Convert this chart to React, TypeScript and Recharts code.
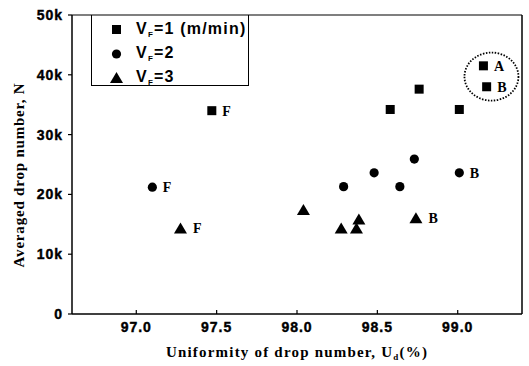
import React from "react";
import {
  ScatterChart,
  Scatter,
  XAxis,
  YAxis,
  ReferenceLine,
  ReferenceDot,
  LabelList,
} from "recharts";

const vf1X = [97.47, 98.58, 98.76, 99.01, 99.16, 99.18];
const vf1Y = [34000, 34200, 37600, 34200, 41500, 38000];
const vf1Labels = ["F", "", "", "", "A", "B"];

const vf2X = [97.1, 98.29, 98.48, 98.64, 98.73, 99.01];
const vf2Y = [21200, 21300, 23600, 21300, 25900, 23600];
const vf2Labels = ["F", "", "", "", "", "B"];

const vf3X = [97.275, 98.04, 98.275, 98.37, 98.385, 98.74];
const vf3Y = [14300, 17400, 14300, 14300, 15800, 16000];
const vf3Labels = ["F", "", "", "", "", "B"];

const xTicks = [97.0, 97.5, 98.0, 98.5, 99.0];
const yTicks = [0, 10000, 20000, 30000, 40000, 50000];
const xDomain = [96.6, 99.4];
const yDomain = [0, 50000];
const circledCenter = { x: 99.21, y: 39700 };

const build = (xs: number[], ys: number[], ls: string[]) =>
  xs.map((x, i) => ({ x, y: ys[i], label: ls[i] }));

const d1 = build(vf1X, vf1Y, vf1Labels);
const d2 = build(vf2X, vf2Y, vf2Labels);
const d3 = build(vf3X, vf3Y, vf3Labels);

const Square = (p: any) => (
  <rect x={p.cx - 4.5} y={p.cy - 4.5} width={9} height={9} fill="#000" />
);
const Dot = (p: any) => <circle cx={p.cx} cy={p.cy} r={4.6} fill="#000" />;
const Tri = (p: any) => (
  <polygon
    points={`${p.cx},${p.cy - 6} ${p.cx - 6.5},${p.cy + 5} ${p.cx + 6.5},${p.cy + 5}`}
    fill="#000"
  />
);

const labelStyle = {
  fontFamily: "'Liberation Serif', serif",
  fontWeight: 700,
  fontSize: 14,
  fill: "#000",
};

const tickFont = {
  fontFamily: "'Liberation Sans', Arial, sans-serif",
  fontWeight: 700,
  fontSize: 14,
  letterSpacing: 1,
  stroke: "#000",
  strokeWidth: 0.4,
};

const XTick = (p: any) => (
  <g>
    <line x1={p.x} x2={p.x} y1={p.y} y2={p.y - 4} stroke="#000" strokeWidth={1.2} />
    <text x={p.x} y={p.y + 18} textAnchor="middle" style={tickFont} fill="#000">
      {p.payload.value.toFixed(1)}
    </text>
  </g>
);

const yFmt = (v: number) => (v === 0 ? "0" : `${v / 1000}k`);

const Ellipse = (p: any) => (
  <ellipse
    cx={p.cx}
    cy={p.cy}
    rx={27}
    ry={24}
    fill="none"
    stroke="#000"
    strokeWidth={1.8}
    strokeDasharray="1.5 1.5"
  />
);

const legendItems = [
  { sym: "square", sub: "=1 (m/min)" },
  { sym: "circle", sub: "=2" },
  { sym: "tri", sub: "=3" },
];

const LegendBox = () => (
  <div
    style={{
      position: "absolute",
      left: 91,
      top: 15,
      width: 158,
      height: 71,
      border: "1px solid #000",
      borderTop: "none",
      boxSizing: "border-box",
      fontFamily: "'Liberation Sans', Arial, sans-serif",
      fontWeight: 700,
      fontSize: 16,
      letterSpacing: 1.2,
    }}
  >
    {legendItems.map((it, i) => (
      <div key={i} style={{ position: "absolute", left: 0, top: 5 + i * 24, height: 20, width: 156 }}>
        <svg width={20} height={20} style={{ position: "absolute", left: 15, top: 0 }}>
          {it.sym === "square" && <rect x={5} y={5} width={9} height={9} fill="#000" />}
          {it.sym === "circle" && <circle cx={9.5} cy={10} r={4.6} fill="#000" />}
          {it.sym === "tri" && <polygon points="9.5,4 3,15 16,15" fill="#000" />}
        </svg>
        <span style={{ position: "absolute", left: 44, top: 0, whiteSpace: "nowrap" }}>
          V<sub style={{ fontSize: 8, verticalAlign: "-3px" }}>F</sub>
          {it.sub}
        </span>
      </div>
    ))}
  </div>
);

export default function App() {
  return (
    <div style={{ position: "absolute", left: 0, top: 0, width: 529, height: 366, background: "#fff" }}>
      <ScatterChart width={529} height={366} margin={{ top: 15, right: 7, bottom: 22, left: 0 }}>
        <XAxis
          type="number"
          dataKey="x"
          domain={xDomain}
          ticks={xTicks}
          tickSize={0}
          tickMargin={0}
          tick={<XTick />}
          height={30}
          axisLine={{ stroke: "#000", strokeWidth: 1.5 }}
          allowDataOverflow
        />
        <YAxis
          type="number"
          dataKey="y"
          domain={yDomain}
          ticks={yTicks}
          tickFormatter={yFmt}
          width={72}
          tickSize={4}
          tickMargin={5}
          tick={{ fill: "#000", ...tickFont }}
          tickLine={{ stroke: "#000", strokeWidth: 1.2 }}
          axisLine={{ stroke: "#000", strokeWidth: 1.5 }}
        />
        <ReferenceLine y={50000} stroke="#000" strokeWidth={1.2} />
        <ReferenceLine x={99.4} stroke="#000" strokeWidth={1.5} />
        <ReferenceDot x={circledCenter.x} y={circledCenter.y} shape={<Ellipse />} />
        <Scatter data={d1} shape={<Square />} isAnimationActive={false}>
          <LabelList dataKey="label" position="right" offset={6} style={labelStyle} />
        </Scatter>
        <Scatter data={d2} shape={<Dot />} isAnimationActive={false}>
          <LabelList dataKey="label" position="right" offset={6} style={labelStyle} />
        </Scatter>
        <Scatter data={d3} shape={<Tri />} isAnimationActive={false}>
          <LabelList dataKey="label" position="right" offset={8} style={labelStyle} />
        </Scatter>
        <text
          x={297}
          y={357}
          textAnchor="middle"
          style={{ fontFamily: "'Liberation Serif', serif", fontWeight: 700, fontSize: 15, letterSpacing: 1.2 }}
          fill="#000"
        >
          Uniformity of drop number, U<tspan fontSize={9} dy={3}>d</tspan>
          <tspan dy={-3}>(%)</tspan>
        </text>
        <text
          x={24}
          y={175}
          textAnchor="middle"
          transform="rotate(-90 24 175)"
          style={{ fontFamily: "'Liberation Serif', serif", fontWeight: 700, fontSize: 15, letterSpacing: 0.8 }}
          fill="#000"
        >
          Averaged drop number, N
        </text>
      </ScatterChart>
      <LegendBox />
    </div>
  );
}
